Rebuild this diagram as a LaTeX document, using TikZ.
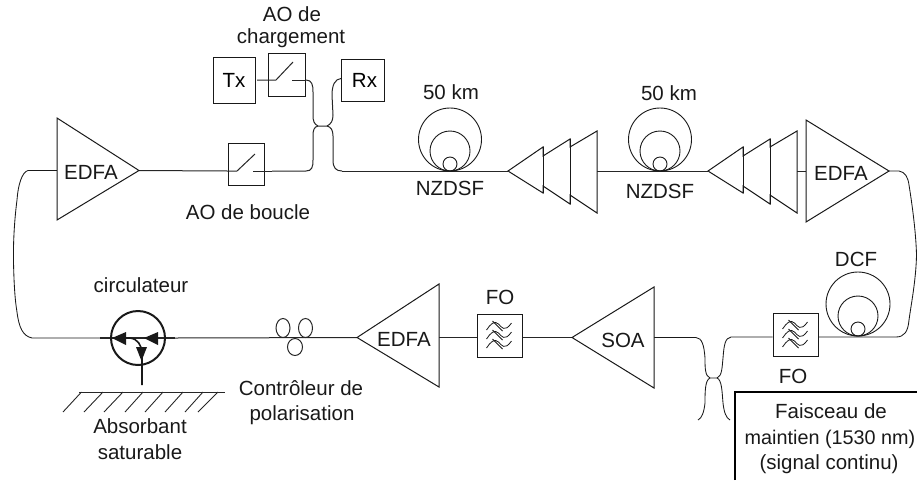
\documentclass[tikz,border=0pt]{standalone}
\usepackage{fontspec}
\setmainfont{Liberation Sans}
\usetikzlibrary{arrows.meta}
\tikzset{
  fib/.style={line width=1pt,draw=black!85},
  thin fib/.style={line width=0.85pt,draw=black!90},
  shape line/.style={line width=1pt,draw=black!90,fill=white},
  boxn/.style={draw=black!90,line width=1pt,fill=white,inner sep=0pt,font=\fontsize{20.5}{22}\selectfont},
  lab/.style={inner sep=0pt,font=\fontsize{20.5}{22}\selectfont,text=black!90,align=center},
  circ/.style={line width=2pt,draw=black!90},
}
\newcommand{\coilat}[3]{% x, bottom y, big radius
  \draw[line width=0.9pt,draw=black!90] (#1,#2-#3) circle[radius=#3];
  \draw[line width=0.9pt,draw=black!90] (#1,#2-20) circle[radius=20];
  \draw[line width=0.9pt,draw=black!90] (#1,#2-7) circle[radius=7];
}
\newcommand{\filterat}[2]{%
  \begin{scope}[shift={(#1,#2)},line width=0.8pt,draw=black!90]
    \foreach \d in {-9,0,9}{
      \draw (-13,\d+3) .. controls (-9,\d-3) and (-5,\d-7) .. (-1,\d-3) .. controls (2,\d) and (5,\d+6) .. (12,\d-4);
      \draw (-7,\d-6) -- (3,\d+4);
    }
  \end{scope}
}
\begin{document}
\begin{tikzpicture}[x=1pt,y=-1pt]
\useasboundingbox (0,0) rectangle (917,480);
% named anchors
\coordinate (L1) at (57,170.5);
\coordinate (L1r) at (139,170.5);
\coordinate (T1a) at (508,171);
\coordinate (T1r) at (597,171);
\coordinate (T2a) at (708,171);
\coordinate (T2r) at (797,171);
\coordinate (E2l) at (806,171);
\coordinate (E2r) at (889,171);
\coordinate (E3a) at (357,337.5);
\coordinate (E3r) at (439,337.5);
\coordinate (S1a) at (572,337.5);
\coordinate (S1r) at (654,337.5);
\coordinate (Cp) at (138,338);
% boxes
\node[boxn,minimum width=42pt,minimum height=46pt] (tx) at (234,80) {Tx};
\node[boxn,minimum width=37pt,minimum height=43pt] (aoc) at (286.5,75) {};
\node[boxn,minimum width=43pt,minimum height=42pt] (rx) at (362.5,80) {\hspace{4pt}Rx};
\node[boxn,minimum width=36pt,minimum height=42pt] (aob) at (246,164) {};
\node[boxn,minimum width=45pt,minimum height=43pt] (fo1) at (499.5,335.5) {};
\node[boxn,minimum width=45pt,minimum height=43pt] (fo2) at (795.5,334.5) {};
% fibres
\draw[fib] (L1r) -- (228,171);
\draw[fib] (272,171) -- (306,171) .. controls (312,171) and (313,167) .. (313,160) -- (313,136) .. controls (313,130) and (314,127) .. (318,126) -- (327,126) .. controls (331,127) and (333,130) .. (333,136) -- (333,160) .. controls (333,168) and (336,171) .. (342,171);
\draw[fib] (342,171) -- (T1a);
\draw[fib] (306,80) .. controls (312,80) and (313,85) .. (313,92) -- (313,115) .. controls (313,121) and (314,124) .. (318,126);
\draw[fib] (327,126) .. controls (331,124) and (333,121) .. (333,115) -- (332,95) .. controls (332,85) and (335,79) .. (341,78.5);
\draw[fib] (T1r) -- (T2a);
\draw[fib] (T2r) -- (E2l);
\draw[thin fib] (E2r) -- (899,171) .. controls (905,172) and (908,177) .. (909,185) .. controls (913,210) and (916,235) .. (916.5,255) .. controls (916,280) and (911,305) .. (909,320) .. controls (908,332) and (904,337) .. (896,337) -- (fo2.east |- 0,337);
\draw[thin fib] (fo2.west |- 0,337) -- (731,337) .. controls (725,338) and (724,345) .. (723,358) .. controls (722,368) and (722,376) .. (717,378) -- (710,378) .. controls (705,380) and (705,392) .. (705,403) .. controls (704,412) and (702,418) .. (698,420);
\draw[thin fib] (S1r) -- (696,337.5) .. controls (702,338) and (704,345) .. (705,358) .. controls (705,368) and (705,376) .. (710,378);
\draw[thin fib] (717,378) .. controls (722,380) and (722,392) .. (723,403) .. controls (724,412) and (726,418) .. (730,420);
\draw[fib] (fo1.east |- S1a) -- (S1a);
\draw[fib] (E3r) -- (fo1.west |- E3r);
\draw[fib] (E3a) -- (175,338);
\draw[line width=1.5pt,draw=black!85] (100,338) -- (175,338);
\draw[thin fib] (L1) -- (28,170.5) .. controls (22,172) and (18,185) .. (17,200) .. controls (15,215) and (13,240) .. (13.5,262) .. controls (14,285) and (15,300) .. (17,312) .. controls (19,328) and (23,336) .. (32,338) -- (100,338);
% triangles
\draw[shape line] (57,118) -- (139,170.5) -- (57,220) -- cycle;
\draw[shape line] (597,131) -- (597,213) -- (570,195) -- (570,204) -- (543,186) -- (543,193) -- (508,171) -- (543,147) -- (543,156) -- (570,139) -- (570,147) -- cycle;
\draw[shape line] (570,139) -- (570,204) (543,147) -- (543,193);
\draw[shape line] (797,131) -- (797,213) -- (770,195) -- (770,204) -- (743,186) -- (743,193) -- (708,171) -- (743,147) -- (743,156) -- (770,139) -- (770,147) -- cycle;
\draw[shape line] (770,139) -- (770,204) (743,147) -- (743,193);
\draw[shape line] (806,120) -- (889,171) -- (806,222) -- cycle;
\draw[shape line] (439,284) -- (439,387) -- (357,337.5) -- cycle;
\draw[shape line] (654,287) -- (572,337.5) -- (654,388) -- cycle;
% coils
\coilat{450}{171}{31.5}
\coilat{660}{171}{31.5}
\coilat{858}{336}{32}
% filters
\filterat{499.5}{336}
\filterat{795.5}{335}
% switches, drawn over the white box fill
\draw[fib] (228,171) -- (237,171) -- (255,154);
\draw[fib] (253,171) -- (272,171);
\draw[fib] (257,80) -- (276,80) -- (293,62);
\draw[fib] (292,80) -- (306,80);
% polarisation controller
\draw[line width=1pt,draw=black!85] (283,328) ellipse[x radius=7,y radius=9.5];
\draw[line width=1pt,draw=black!85] (305.5,328) ellipse[x radius=7,y radius=9.5];
\draw[line width=1pt,draw=black!85] (295,347) ellipse[x radius=7.5,y radius=8.5];
% circulator
\draw[circ] (Cp) circle[radius=27];
\draw[line width=1.6pt,draw=black!90] (125,338) -- (130,338) .. controls (138,339) and (141,345) .. (142,352) -- (142,385);
\fill[black!90] (112,338) -- (126,332) -- (126,345) -- cycle;
\fill[black!90] (144,338) -- (158,332) -- (158,345) -- cycle;
\fill[black!90] (141.5,361) -- (136,347) -- (147,347) -- cycle;
% mirror
\draw[line width=1pt,draw=black!85] (79,392) -- (225,392);
\foreach \a/\b in {81.5/63,103/84,123/104,143/125,163/145,183/165,203/185,218/198}{
  \draw[line width=0.9pt,draw=black!85] (\a,392) -- (\b,412);
}
% output box
\draw[line width=2pt,draw=black] (734.5,480) -- (734.5,392) -- (917,392);
% labels
\node[lab] (l1) at (292,14) {AO de};
\node[lab] (l2) at (291,38) {chargement};
\node[lab] (l3) at (248,212) {AO de boucle};
\node[lab] (l4) at (451,92) {50 km};
\node[lab] (l5) at (450,188) {NZDSF};
\node[lab] (l6) at (669,93) {50 km};
\node[lab] (l7) at (660,191) {NZDSF};
\node[lab] (l8) at (856,259) {DCF};
\node[lab] (l9) at (91,172) {EDFA};
\node[lab] (l10) at (841,173) {EDFA};
\node[lab] (l11) at (404,339) {EDFA};
\node[lab] (l12) at (623,340) {SOA};
\node[lab] (l13) at (500,297) {FO};
\node[lab] (l14) at (793,376) {FO};
\node[lab] (l15) at (141,285) {circulateur};
\node[lab] (l16) at (140,426) {Absorbant};
\node[lab] (l17) at (140,452) {saturable};
\node[lab] (l18) at (301,388) {Contrôleur de};
\node[lab] (l19) at (302,415) {polarisation};
\node[lab] (l20) at (831,411) {Faisceau de};
\node[lab,anchor=east,font=\fontsize{19.8}{22}\selectfont] (l21) at (915.5,439) {maintien (1530 nm)};
\node[lab] (l22) at (829,464) {(signal continu)};
\end{tikzpicture}
\end{document}
